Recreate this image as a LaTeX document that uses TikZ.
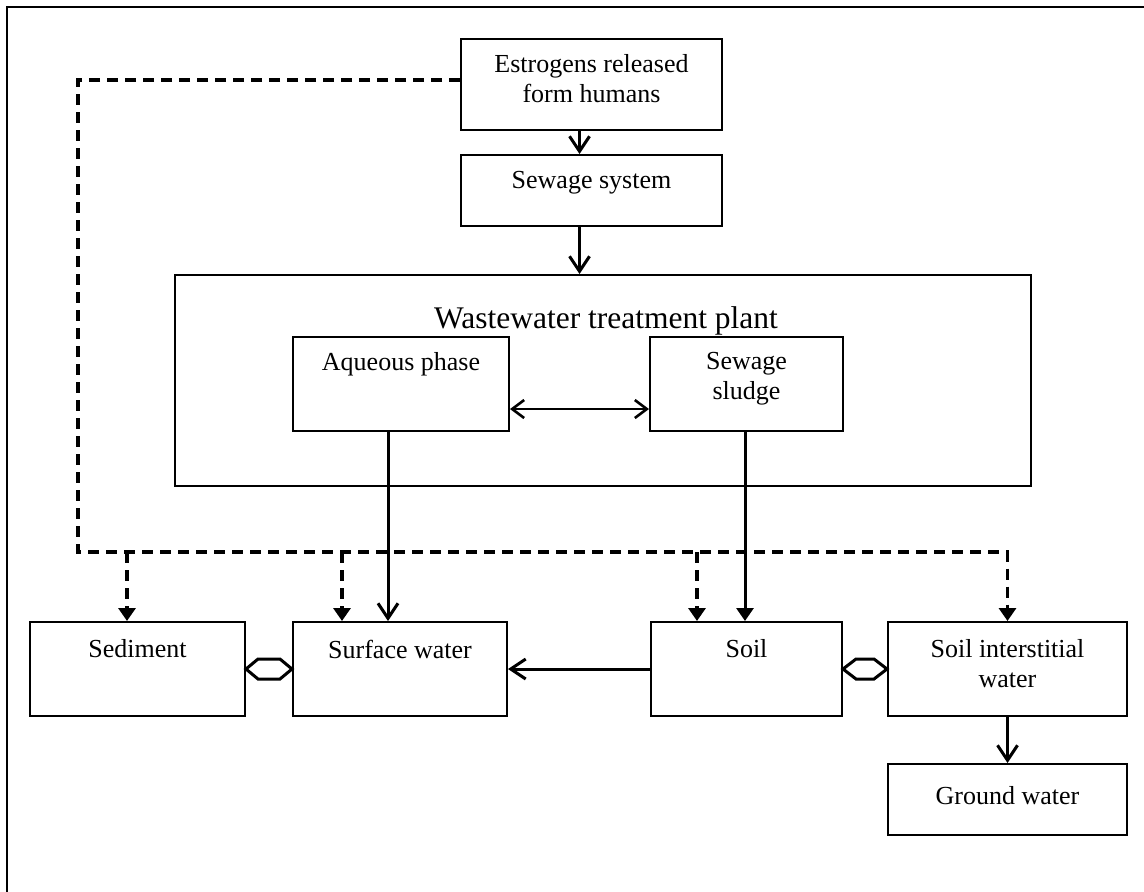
\documentclass[tikz,border=0pt]{standalone}
\usepackage{fontspec}
\setmainfont{Liberation Serif}
\usetikzlibrary{arrows.meta,calc}

\begin{document}
\begin{tikzpicture}[x=1pt,y=-1pt,
  box/.style={draw,line width=2pt,inner sep=0pt},
  txt/.style={font=\fontsize{26}{30}\selectfont,align=center,inner sep=0pt},
  ttl/.style={font=\fontsize{31.5}{36}\selectfont,inner sep=0pt,anchor=base},
  flow/.style={line width=3pt},
  thinflow/.style={line width=2.6pt},
  chev/.style={-{Straight Barb[length=15pt,width=20pt]}},
  chevboth/.style={{Straight Barb[length=12pt,width=18pt]}-{Straight Barb[length=12pt,width=18pt]}},
  solidtip/.style={-{Triangle[length=13pt,width=17pt]}},
  dashroute/.style={line width=3.2pt,dash pattern=on 11pt off 7pt},
  hexa/.style={line width=3pt,line join=miter},
]
\useasboundingbox (0,0) rectangle (1144,892);
% outer frame
\draw[line width=2pt] (7,892) -- (7,7) -- (1144,7);

% boxes
\node[box,minimum width=261,minimum height=91] (est) at (591.5,84.5) {};
\node[box,minimum width=261,minimum height=71] (sew) at (591.5,190.5) {};
\node[box,minimum width=856,minimum height=211] (wwtp) at (603,380.5) {};
\node[box,minimum width=216,minimum height=94] (aq) at (401,384) {};
\node[box,minimum width=193,minimum height=94] (sl) at (746.5,384) {};
\node[box,minimum width=215,minimum height=94] (sed) at (137.5,669) {};
\node[box,minimum width=214,minimum height=94] (sw) at (400,669) {};
\node[box,minimum width=191,minimum height=94] (soil) at (746.5,669) {};
\node[box,minimum width=239,minimum height=94] (isw) at (1007.5,669) {};
\node[box,minimum width=239,minimum height=71] (gw) at (1007.5,799.5) {};

% texts
\node[txt] (t-est) at ($(est.north)+(0,41)$) {Estrogens released\\form humans};
\node[txt] (t-sew) at ($(sew.north)+(0,29)$) {Sewage system};
\node[ttl] (t-wwtp) at ($(wwtp.north)+(3,54)$) {Wastewater treatment plant};
\node[txt] (t-aq) at ($(aq.north)+(0,28)$) {Aqueous phase};
\node[txt] (t-sl) at ($(sl.north)+(0,43)$) {Sewage\\sludge};
\node[txt] (t-sed) at ($(sed.north)+(0,28)$) {Sediment};
\node[txt] (t-sw) at ($(sw.north)+(0,28)$) {Surface water};
\node[txt] (t-soil) at ($(soil.north)+(0,28)$) {Soil};
\node[txt] (t-isw) at ($(isw.north)+(0,43)$) {Soil interstitial\\water};
\node[txt] (t-gw) at ($(gw.north)+(0,33)$) {Ground water};

% main flow
\draw[flow,chev] ([xshift=-12pt]est.south) -- ([xshift=-12pt]sew.north);
\draw[flow,chev] ([xshift=-12pt]sew.south) -- ([xshift=-12pt]sew.south |- wwtp.north);
\draw[thinflow,chevboth] ([yshift=-25pt]aq.east) -- ([yshift=-25pt]sl.west);
\draw[flow,chev] ([xshift=-13pt]aq.south) -- ([xshift=-13pt]aq.south |- sw.north);
\draw[flow,solidtip] ([xshift=-1.5pt]sl.south) -- ([xshift=-1.5pt]soil.north);
\draw[flow,chev] (soil.west) -- (sw.east);
\draw[flow,chev] (isw.south) -- (gw.north);

% two-way exchanges
\draw[hexa] (sed.east) -- ++(12,-10) -- ($(sw.west)+(-12,-10)$) -- (sw.west)
  -- ++(-12,10) -- ($(sed.east)+(12,10)$) -- cycle;
\draw[hexa] (soil.east) -- ++(13,-10) -- ($(isw.west)+(-13,-10)$) -- (isw.west)
  -- ++(-13,10) -- ($(soil.east)+(13,10)$) -- cycle;

% direct release routes
\coordinate (corner) at (78,80);
\coordinate (bus) at (78,552);
\draw[dashroute,solidtip] ([yshift=4.5pt]est.west) -- (corner) -- (bus) -- (bus -| isw.north) -- (isw.north);
\draw[dashroute,solidtip] (bus -| 127,0) -- ([xshift=-10.5pt]sed.north);
\draw[dashroute,solidtip] (bus -| 342,0) -- ([xshift=-58pt]sw.north);
\draw[dashroute,solidtip] (bus -| 697,0) -- ([xshift=-49.5pt]soil.north);
\end{tikzpicture}
\end{document}
